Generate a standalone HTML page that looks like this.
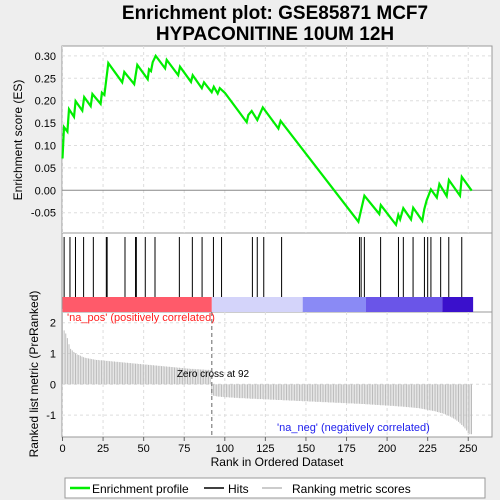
<!DOCTYPE html>
<html><head><meta charset="utf-8"><style>
body{margin:0;background:#eeeeee;font-family:"Liberation Sans",sans-serif;}
svg{display:block}
text{font-family:"Liberation Sans",sans-serif;}
</style></head><body>
<svg id="c" width="500" height="500" viewBox="0 0 500 500">
<text x="275" y="19" text-anchor="middle" font-size="19" font-weight="bold">Enrichment plot: GSE85871 MCF7</text>
<text x="275" y="40" text-anchor="middle" font-size="19" font-weight="bold">HYPACONITINE 10UM 12H</text>
<rect x="62" y="46" width="430" height="187" fill="#fff" stroke="#999"/>
<rect x="62" y="233" width="430" height="79" fill="#fff" stroke="#999"/>
<rect x="62" y="312" width="430" height="125" fill="#fff" stroke="#999"/>
<g id="g"></g>
<text transform="translate(22,140) rotate(-90)" text-anchor="middle" font-size="12">Enrichment score (ES)</text>
<text transform="translate(38,374) rotate(-90)" text-anchor="middle" font-size="12">Ranked list metric (PreRanked)</text>
<text x="277" y="466" text-anchor="middle" font-size="12">Rank in Ordered Dataset</text>
<rect x="65" y="478" width="420" height="20" fill="#fff" stroke="#999"/>
<line x1="70" y1="488" x2="90" y2="488" stroke="#00ee00" stroke-width="2.5"/>
<text x="92" y="493" font-size="12">Enrichment profile</text>
<line x1="204" y1="488" x2="224" y2="488" stroke="#000" stroke-width="1.5"/>
<text x="228" y="493" font-size="12">Hits</text>
<line x1="262" y1="488" x2="282" y2="488" stroke="#bbb" stroke-width="1.5"/>
<text x="292" y="493" font-size="12">Ranking metric scores</text>
</svg>
<script>
const esRanks=[0,0.9,3,4,7.1,8.1,12.2,13.4,17.4,18.4,23.5,24.3,25.8,28.2,36.8,38.1,44.2,46.1,52.5,53.3,54.5,55.6,57.4,63.2,64.2,71.3,72.4,79.2,80.2,85.8,87.2,91.9,93.2,95.6,96.9,100.2,113.5,114.5,116.6,120,123.4,133,134.4,182.3,186,195.2,196.1,205.5,206.9,208,210,214.7,216.1,221.7,222.9,224.4,227,230.6,232.2,236.7,238.1,244.9,246,252.1];
const esValues=[0.071,0.141,0.131,0.181,0.164,0.199,0.178,0.208,0.188,0.215,0.193,0.218,0.213,0.284,0.241,0.264,0.237,0.280,0.248,0.270,0.266,0.286,0.300,0.272,0.291,0.257,0.276,0.242,0.257,0.228,0.241,0.219,0.231,0.216,0.228,0.217,0.152,0.168,0.177,0.157,0.185,0.138,0.155,-0.070,-0.012,-0.053,-0.033,-0.077,-0.055,-0.065,-0.040,-0.065,-0.039,-0.068,-0.042,-0.022,0.002,-0.016,0.014,-0.013,0.023,-0.012,0.030,-0.001];
const hitRanks=[1,4.6,8,13,19,27,27.5,38.5,45,45.5,51,57,72,80,86,93,98,117,120,124,135,183,184,186,196,207,210,216,223,225,227,233,238,246];
const metricValues=[2.45,1.75,1.65,1.5,1.3,1.15,1.1,1.05,1.0,0.97,0.95,0.93,0.9,0.88,0.86,0.85,0.84,0.83,0.82,0.81,0.80,
.79,.79,.78,.78,.77,.77,.76,.76,.75,.75,.74,.74,.73,.73,.72,.72,.71,.71,.70,.70,.69,.69,.68,.68,.67,.67,.66,.66,.65,.65,
.64,.64,.63,.63,.62,.62,.61,.61,.60,.60,.59,.59,.58,.58,.57,.57,.56,.56,.55,.55,.54,.54,.53,.53,.52,.52,.51,.51,.50,.50,
.50,.49,.49,.49,.48,.48,.48,.47,.47,.47,.46,
-.35,-.37,-.38,-.39,-.40,-.40,-.41,-.41,-.42,-.42,-.42,-.43,-.43,-.43,-.44,-.44,-.44,-.45,-.45,-.45,
-.45,-.46,-.46,-.46,-.47,-.47,-.47,-.47,-.48,-.48,-.48,-.48,-.49,-.49,-.49,-.49,-.50,-.50,-.50,-.50,
-.51,-.51,-.51,-.51,-.52,-.52,-.52,-.52,-.53,-.53,-.53,-.53,-.54,-.54,-.54,-.54,-.55,-.55,-.55,-.55,
-.56,-.56,-.56,-.56,-.57,-.57,-.57,-.57,-.58,-.58,-.58,-.58,-.59,-.59,-.59,-.59,-.60,-.60,-.60,-.60,
-.61,-.61,-.61,-.61,-.62,-.62,-.62,-.62,-.63,-.63,-.63,-.63,-.64,-.64,-.64,-.65,-.65,-.65,-.66,-.66,
-.66,-.67,-.67,-.67,-.68,-.68,-.68,-.69,-.69,-.69,-.70,-.70,-.70,-.71,-.71,-.72,-.72,-.72,-.73,-.73,
-.74,-.74,-.75,-.75,-.76,-.76,-.77,-.77,-.78,-.79,-.80,-.81,-.82,-.83,-.84,-.85,-.86,-.87,-.88,-.90,
-.91,-.93,-.94,-.96,-.98,-1.00,-1.02,-1.05,-1.08,-1.11,-1.14,-1.18,-1.22,-1.27,-1.32,-1.37,-1.43,-1.50,-1.58,-1.62,-1.62];
const xTicks=[0,25,50,75,100,125,150,175,200,225,250];
const esTicks=[0.30,0.25,0.20,0.15,0.10,0.05,0.00,-0.05];
const esTickLabels=["0.30","0.25","0.20","0.15","0.10","0.05","0.00","-0.05"];
const metricTicks=[2,1,0,-1];
const zeroCross=92;
const bandEdges=[0,92,148,187,234,253];
const bandColors=["#ff5a6a","#d4d4fa","#8a8af5","#6a55e8","#3a10cc"];

const NS="http://www.w3.org/2000/svg";
const g=document.getElementById('g');
const X=r=>62.5+r*1.623;
const YE=v=>190.3-v*448;
const YM=v=>384.3-v*30.8;
function el(t,a,p){const e=document.createElementNS(NS,t);for(const k in a)e.setAttribute(k,a[k]);(p||g).appendChild(e);return e;}

// grid
xTicks.forEach(t=>{
  const gl=el('line',{x1:X(t),x2:X(t),y1:46,y2:233,stroke:'#ddd','stroke-dasharray':'3,3'});
  
  
  const gl2=el('line',{x1:X(t),x2:X(t),y1:312,y2:437,stroke:'#ddd','stroke-dasharray':'3,3'});
  
  
  const tk=el('line',{x1:X(t),x2:X(t),y1:437,y2:441,stroke:'#666'});
  
  
  const tl=el('text',{x:X(t),y:452,'text-anchor':'middle','font-size':'11'});tl.textContent=t;
  
  
});
esTicks.forEach((t,i)=>{
  const gl=el('line',{x1:62,x2:492,y1:YE(t),y2:YE(t),stroke:t===0?'#888':'#ddd','stroke-dasharray':t===0?'':'3,3'});
  
  
  const tl=el('text',{x:56,y:YE(t)+4,'text-anchor':'end','font-size':'11'});tl.textContent=esTickLabels[i];
  
  
});
metricTicks.forEach(t=>{
  const gl=el('line',{x1:62,x2:492,y1:YM(t),y2:YM(t),stroke:'#ddd','stroke-dasharray':'3,3'});
  
  
  const tl=el('text',{x:56,y:YM(t)+4,'text-anchor':'end','font-size':'11'});tl.textContent=t;
  
  
});
// metric bars
metricValues.forEach((v,i)=>{
  const b=el('line',{x1:X(i),x2:X(i),y1:YM(0),y2:YM(v),stroke:'#bbb','stroke-width':'1'});
  
  
});
const zc=el('line',{x1:X(zeroCross),x2:X(zeroCross),y1:312,y2:437,stroke:'#666','stroke-dasharray':'4,3'});


const zt=el('text',{x:X(zeroCross)-35,y:377,'font-size':'10'});zt.textContent='Zero cross at '+zeroCross;


const pl=el('text',{x:67,y:321,'font-size':'11',fill:'#ff2020'});pl.textContent="'na_pos' (positively correlated)";


const nl=el('text',{x:277,y:431,'font-size':'11',fill:'#2020ee'});nl.textContent="'na_neg' (negatively correlated)";


// color band
bandColors.forEach((c,i)=>{
  const r=el('rect',{x:X(bandEdges[i]),y:297,width:X(bandEdges[i+1])-X(bandEdges[i]),height:15,fill:c});
  
  
});
// hits
hitRanks.forEach(h=>{
  const l=el('line',{x1:X(h),x2:X(h),y1:237,y2:297,stroke:'#000','stroke-width':'1'});
  
  
});
// ES curve
const pts=esRanks.map((r,i)=>X(r).toFixed(1)+','+YE(esValues[i]).toFixed(1)).join(' ');
const pe=el('polyline',{points:pts,fill:'none',stroke:'#00ee00','stroke-width':'2.2'});


</script>
</body></html>
